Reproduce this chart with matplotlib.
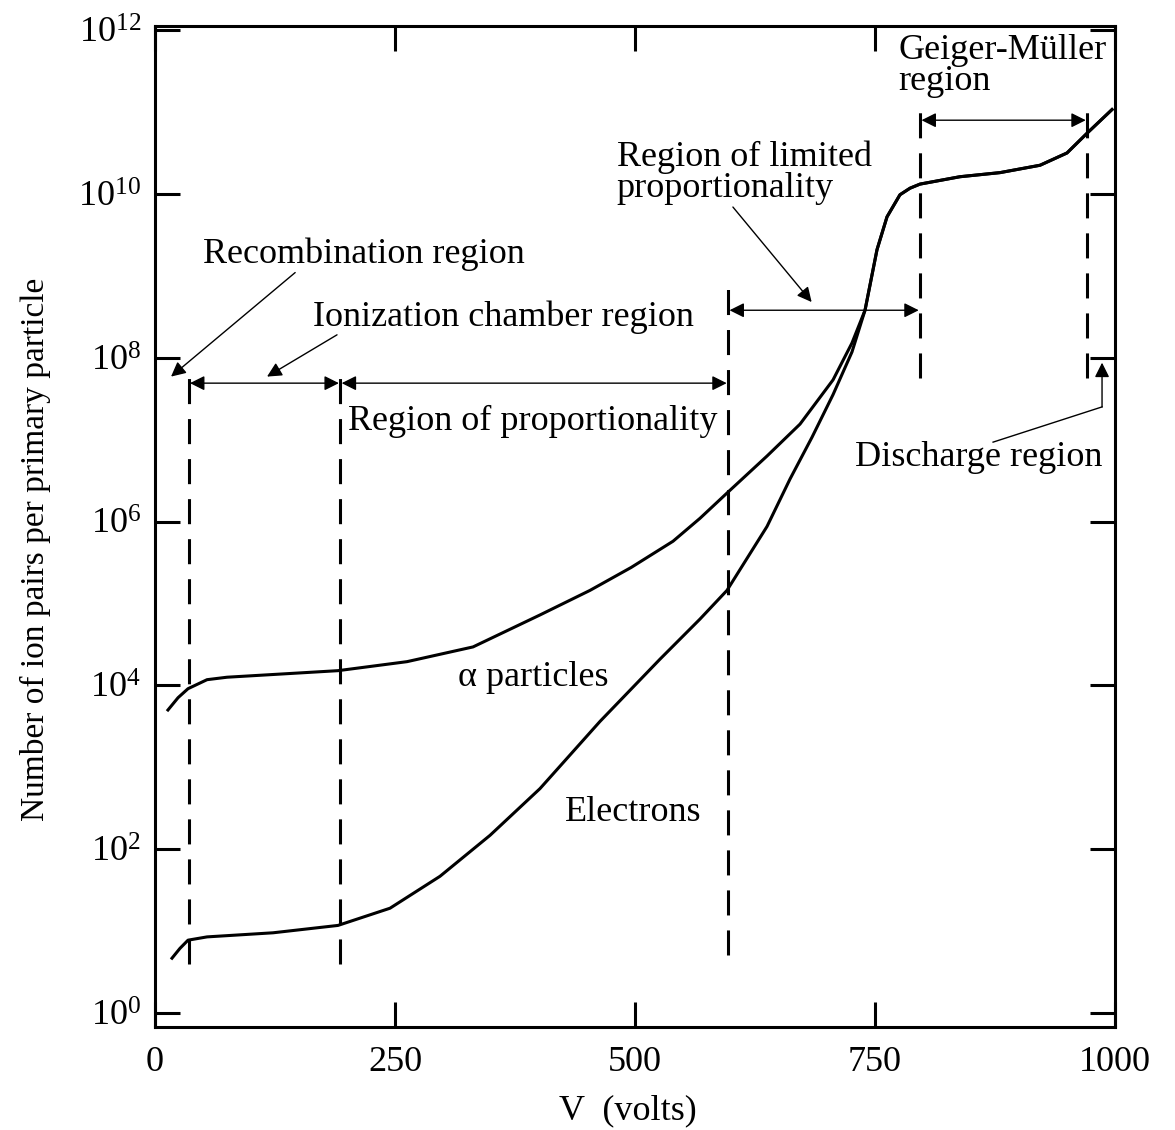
import numpy as np
import matplotlib
matplotlib.use('Agg')
from matplotlib import pyplot as plt

plt.rcParams['font.family'] = ['Liberation Serif', 'DejaVu Serif']
plt.rcParams['mathtext.fontset'] = 'custom'
plt.rcParams['mathtext.rm'] = 'Liberation Serif'
plt.rcParams['mathtext.it'] = 'Liberation Serif:italic'

# ---- data (V in volts, log10 of ion pairs) ----
alpha_v = [13.5, 24.0, 34.4, 54.2, 75.0, 190.6, 262.5, 331.3, 401.0, 453.1,
           496.0, 539.6, 567.7, 596.9, 637.5, 671.9, 706.3, 726.0, 739.6,
           752.1, 762.5, 776.0, 786.5, 796.9, 838.5, 880.2, 921.9, 950.0, 970.8, 996.9]
alpha_log = [3.70, 3.85, 3.96, 4.07, 4.10, 4.18, 4.29, 4.47, 4.86, 5.16,
             5.44, 5.76, 6.04, 6.36, 6.80, 7.19, 7.73, 8.18, 8.58,
             9.32, 9.72, 9.99, 10.07, 10.12, 10.21, 10.26, 10.35, 10.50, 10.74, 11.03]

elec_v = [17.7, 26.0, 34.4, 54.2, 122.9, 190.6, 244.8, 296.9, 349.0, 401.0,
          463.5, 526.0, 567.7, 595.8, 637.5, 661.5, 684.4, 706.3, 726.0, 739.6,
          752.1, 762.5, 776.0, 786.5, 796.9, 838.5, 880.2, 921.9, 950.0, 970.8, 996.9]
elec_log = [0.67, 0.79, 0.89, 0.93, 0.98, 1.07, 1.28, 1.67, 2.17, 2.74,
            3.56, 4.32, 4.81, 5.16, 5.94, 6.52, 7.03, 7.55, 8.07, 8.58,
            9.32, 9.72, 9.99, 10.07, 10.12, 10.21, 10.26, 10.35, 10.50, 10.74, 11.03]

# region boundaries (volts) and the vertical extent of each dashed line (log10)
bound_v = [35, 193, 597, 797, 971]
bound_lo = [0.60, 0.60, 0.71, 7.75, 7.75]
bound_hi = [7.85, 7.85, 8.95, 11.05, 11.05]

# double-headed span arrows: (start V, end V, log10 level)
spans = [(35, 193, 7.69), (193, 597, 7.69), (597, 797, 8.58), (797, 971, 10.9)]

x_ticks = [0, 250, 500, 750, 1000]
y_exps = [0, 2, 4, 6, 8, 10, 12]

FS = 26

fig = plt.figure(figsize=(11.75, 11.3), dpi=100)
ax = fig.add_axes([155/1175, 1 - 1027/1130, 960/1175, 1001/1130])

ax.set_yscale('log')
ax.set_xlim(0, 1000)
ax.set_ylim(10**-0.17, 10**12.05)

ax.plot(alpha_v, 10**np.array(alpha_log), color='black', lw=2.2)
ax.plot(elec_v, 10**np.array(elec_log), color='black', lw=2.2)

for v, lo, hi in zip(bound_v, bound_lo, bound_hi):
    ax.plot([v, v], [10**lo, 10**hi], color='black', lw=2.2, dashes=(8.2, 4.9))

for v0, v1, lev in spans:
    ax.annotate('', xy=(v1, 10**lev), xytext=(v0, 10**lev),
                arrowprops=dict(arrowstyle='<|-|>', color='black', lw=1.0,
                                mutation_scale=22, shrinkA=1, shrinkB=1))

def pointer(x0, l0, x1, l1):
    ax.annotate('', xy=(x1, 10**l1), xytext=(x0, 10**l0),
                arrowprops=dict(arrowstyle='-|>', color='black', lw=1.0,
                                mutation_scale=22, shrinkA=0, shrinkB=0))

pointer(146, 9.04, 16.7, 7.77)     # recombination
pointer(189.6, 8.28, 116.7, 7.77)  # ionization chamber
pointer(602, 9.84, 684, 8.68)      # limited proportionality
ax.plot([873, 986.5], [10**6.97, 10**7.40], color='black', lw=1.0)
pointer(986.5, 7.40, 986.5, 7.94)  # discharge

def label(v, lev, s, **kw):
    ax.text(v, 10**lev, s, fontsize=FS, ha='left', va='center', **kw)

label(774, 11.56, 'Geiger-Müller\nregion', linespacing=0.92)
label(481, 10.26, 'Region of limited\nproportionality', linespacing=0.92)
label(50, 9.26, 'Recombination region')
label(164.6, 8.49, 'Ionization chamber region')
label(201, 7.22, 'Region of proportionality')
label(729, 6.78, 'Discharge region')
label(315.6, 4.10, 'α particles')
label(427, 2.45, 'Electrons')

ax.set_xticks(x_ticks)
ax.set_xticklabels([str(t) for t in x_ticks])
ax.set_yticks([10.0**e for e in y_exps])
ax.set_yticklabels([r'$\mathregular{10^{%d}}$' % e for e in y_exps])
ax.minorticks_off()
ax.tick_params(which='major', direction='in', length=18, width=2.2,
               top=True, right=True, labelsize=FS)
ax.tick_params(axis='x', pad=14)
ax.tick_params(axis='y', pad=10)

for sp in ax.spines.values():
    sp.set_linewidth(2.2)

ax.set_xlabel('V  (volts)', fontsize=FS)
ax.set_ylabel('Number of ion pairs per primary particle', fontsize=24)
ax.xaxis.set_label_coords(0.493, -0.067)
ax.yaxis.set_label_coords(-0.108, 0.477)

fig.savefig('out.png', dpi=100)
